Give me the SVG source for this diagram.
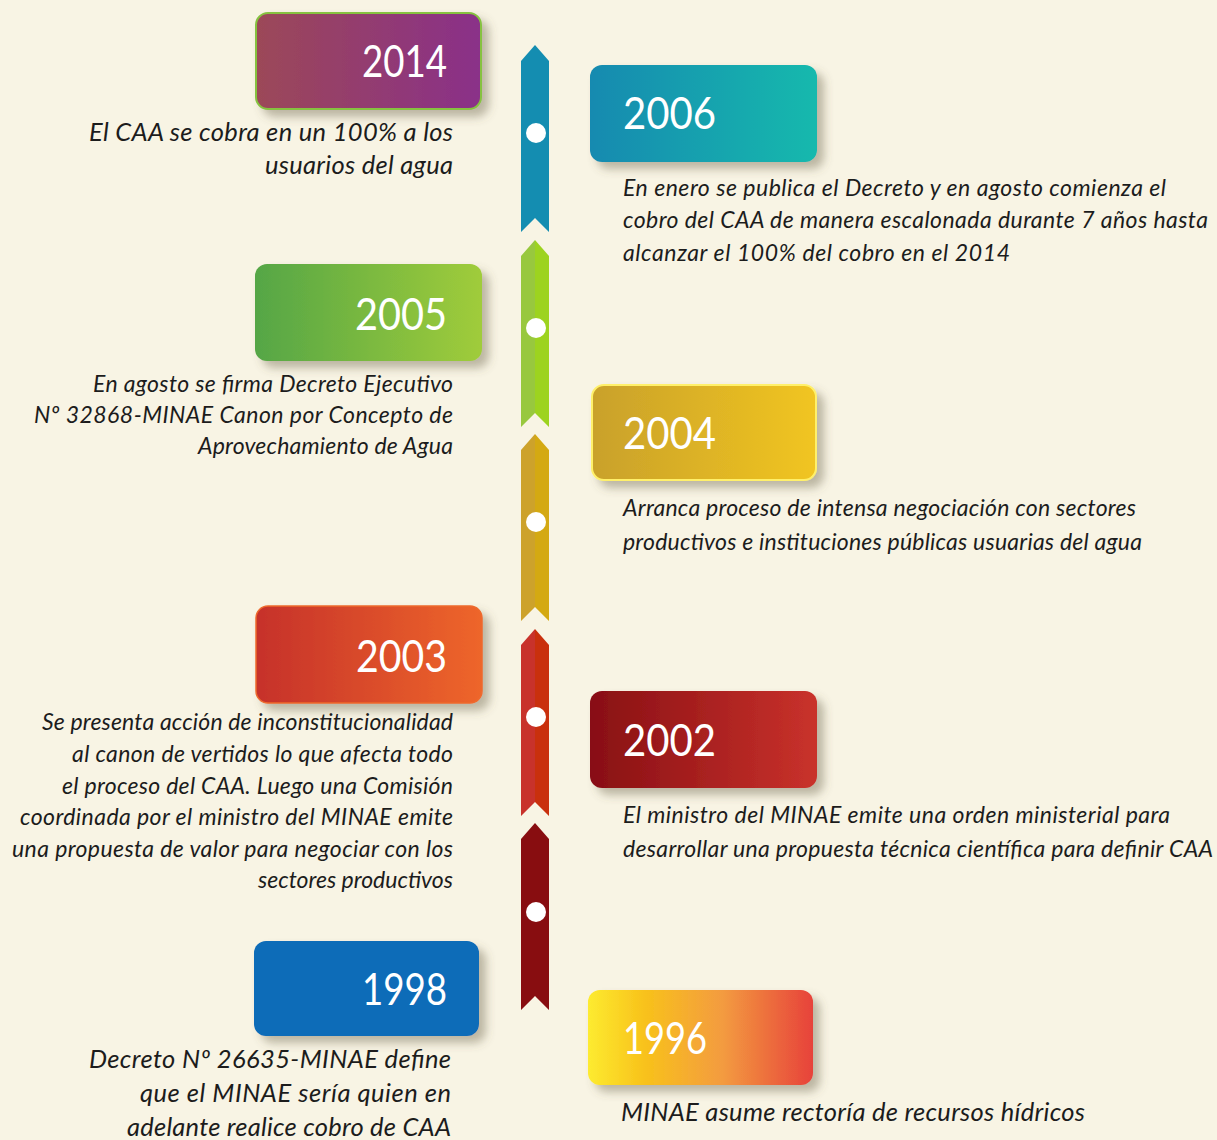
<svg xmlns="http://www.w3.org/2000/svg" width="1217" height="1140" viewBox="0 0 1217 1140">
<style>
.yr{font-family:Lato,"Open Sans","DejaVu Sans",sans-serif;font-size:44px;fill:#ffffff;}
.tx{font-family:Lato,"Open Sans","DejaVu Sans",sans-serif;font-style:italic;font-size:23px;fill:#1c1c1c;}
.big{font-size:25.5px;}
.r{text-anchor:end;}
.dot{fill:#ffffff;}
</style>
<defs>
<filter id="sh" x="-20%" y="-30%" width="150%" height="170%">
<feDropShadow dx="7" dy="7" stdDeviation="5" flood-color="#5e5840" flood-opacity="0.4"/>
</filter>
<linearGradient id="g2014" x1="0" x2="1" y1="0" y2="0"><stop offset="0" stop-color="#9c4858"/><stop offset="1" stop-color="#8a3089"/></linearGradient>
<linearGradient id="g2006" x1="0" x2="1" y1="0" y2="0"><stop offset="0" stop-color="#188ab0"/><stop offset="1" stop-color="#14b9ad"/></linearGradient>
<linearGradient id="g2005" x1="0" x2="1" y1="0" y2="0"><stop offset="0" stop-color="#55a646"/><stop offset="1" stop-color="#a0cc3a"/></linearGradient>
<linearGradient id="g2004" x1="0" x2="1" y1="0" y2="0"><stop offset="0" stop-color="#c9a12b"/><stop offset="1" stop-color="#f1c520"/></linearGradient>
<linearGradient id="g2003" x1="0" x2="1" y1="0" y2="0"><stop offset="0" stop-color="#c6312a"/><stop offset="1" stop-color="#ee662b"/></linearGradient>
<linearGradient id="g2002" x1="0" x2="1" y1="0" y2="0"><stop offset="0" stop-color="#880f14"/><stop offset="1" stop-color="#c9322b"/></linearGradient>
<linearGradient id="g1996" x1="0" x2="1" y1="0" y2="0"><stop offset="0" stop-color="#fdeb30"/><stop offset="0.25" stop-color="#f8c21b"/><stop offset="0.6" stop-color="#f39b40"/><stop offset="1" stop-color="#e7423a"/></linearGradient>
<linearGradient id="sGreen" x1="0" x2="1" y1="0" y2="0"><stop offset="0.5" stop-color="#98c83e"/><stop offset="0.5" stop-color="#9dd31f"/></linearGradient>
<linearGradient id="sGold" x1="0" x2="1" y1="0" y2="0"><stop offset="0.5" stop-color="#cda22b"/><stop offset="0.5" stop-color="#d4a912"/></linearGradient>
<linearGradient id="sRed" x1="0" x2="1" y1="0" y2="0"><stop offset="0.5" stop-color="#c8322b"/><stop offset="0.5" stop-color="#c9300d"/></linearGradient>
<path id="seg" d="M0 0 L14 16 L14 187 L0 173 L-14 187 L-14 16 Z"/>
</defs>
<rect x="0" y="0" width="1217" height="1140" fill="#f8f4e4"/>

<g id="timeline-spine">
<use href="#seg" x="535" y="45" fill="#148db1"/>
<use href="#seg" x="535" y="240" fill="url(#sGreen)"/>
<use href="#seg" x="535" y="434" fill="url(#sGold)"/>
<use href="#seg" x="535" y="629" fill="url(#sRed)"/>
<use href="#seg" x="535" y="823" fill="#880d10"/>
<circle class="dot" cx="536" cy="133" r="10"/>
<circle class="dot" cx="536" cy="328" r="10"/>
<circle class="dot" cx="536" cy="522" r="10"/>
<circle class="dot" cx="536" cy="717" r="10"/>
<circle class="dot" cx="536" cy="912" r="10"/>
</g>

<g id="node-2014">
<rect x="256" y="13" width="225" height="96" rx="12" fill="url(#g2014)" stroke="#86c240" stroke-width="2" filter="url(#sh)"/>
<text class="yr r" x="447" y="77" textLength="85" lengthAdjust="spacingAndGlyphs">2014</text>
<text class="tx big r" x="453" y="141" textLength="364">El CAA se cobra en un 100% a los</text>
<text class="tx big r" x="453" y="174" textLength="188">usuarios del agua</text>
</g>

<g id="node-2006">
<rect x="590" y="65" width="227" height="97" rx="12" fill="url(#g2006)" filter="url(#sh)"/>
<text class="yr" x="623" y="129" textLength="93" lengthAdjust="spacingAndGlyphs">2006</text>
<text class="tx" x="623" y="196" textLength="543">En enero se publica el Decreto y en agosto comienza el</text>
<text class="tx" x="623" y="228" textLength="585">cobro del CAA de manera escalonada durante 7 años hasta</text>
<text class="tx" x="623" y="261" textLength="387">alcanzar el 100% del cobro en el 2014</text>
</g>

<g id="node-2005">
<rect x="255" y="264" width="227" height="97" rx="12" fill="url(#g2005)" filter="url(#sh)"/>
<text class="yr r" x="447" y="330" textLength="92" lengthAdjust="spacingAndGlyphs">2005</text>
<text class="tx r" x="453" y="392" textLength="360">En agosto se firma Decreto Ejecutivo</text>
<text class="tx r" x="453" y="423" textLength="419">Nº 32868-MINAE Canon por Concepto de</text>
<text class="tx r" x="453" y="454" textLength="255">Aprovechamiento de Agua</text>
</g>

<g id="node-2004">
<rect x="592" y="385" width="224" height="95" rx="12" fill="url(#g2004)" stroke="#fff06a" stroke-width="2" filter="url(#sh)"/>
<text class="yr" x="623" y="449" textLength="93" lengthAdjust="spacingAndGlyphs">2004</text>
<text class="tx" x="623" y="516" textLength="513">Arranca proceso de intensa negociación con sectores</text>
<text class="tx" x="623" y="550" textLength="519">productivos e instituciones públicas usuarias del agua</text>
</g>

<g id="node-2003">
<rect x="256" y="606" width="226" height="97" rx="12" fill="url(#g2003)" stroke="#ee6a2e" stroke-width="1.5" filter="url(#sh)"/>
<text class="yr r" x="447" y="672" textLength="91" lengthAdjust="spacingAndGlyphs">2003</text>
<text class="tx r" x="453" y="730" textLength="411">Se presenta acción de inconstitucionalidad</text>
<text class="tx r" x="453" y="762" textLength="381">al canon de vertidos lo que afecta todo</text>
<text class="tx r" x="453" y="794" textLength="391">el proceso del CAA. Luego una Comisión</text>
<text class="tx r" x="453" y="825" textLength="433">coordinada por el ministro del MINAE emite</text>
<text class="tx r" x="453" y="857" textLength="441">una propuesta de valor para negociar con los</text>
<text class="tx r" x="453" y="888" textLength="195">sectores productivos</text>
</g>

<g id="node-2002">
<rect x="590" y="691" width="227" height="97" rx="12" fill="url(#g2002)" filter="url(#sh)"/>
<text class="yr" x="623" y="756" textLength="93" lengthAdjust="spacingAndGlyphs">2002</text>
<text class="tx" x="623" y="823" textLength="547">El ministro del MINAE emite una orden ministerial para</text>
<text class="tx" x="623" y="857" textLength="590">desarrollar una propuesta técnica científica para definir CAA</text>
</g>

<g id="node-1998">
<rect x="254" y="941" width="225" height="95" rx="12" fill="#0e6cb8" filter="url(#sh)"/>
<text class="yr r" x="447" y="1005" textLength="85" lengthAdjust="spacingAndGlyphs">1998</text>
<text class="tx big r" x="451" y="1068" textLength="362">Decreto Nº 26635-MINAE define</text>
<text class="tx big r" x="451" y="1102" textLength="311">que el MINAE sería quien en</text>
<text class="tx big r" x="451" y="1136" textLength="324">adelante realice cobro de CAA</text>
</g>

<g id="node-1996">
<rect x="588" y="990" width="225" height="95" rx="12" fill="url(#g1996)" filter="url(#sh)"/>
<text class="yr" x="623" y="1054" textLength="84" lengthAdjust="spacingAndGlyphs">1996</text>
<text class="tx big" x="621" y="1121" textLength="464">MINAE asume rectoría de recursos hídricos</text>
</g>
</svg>
